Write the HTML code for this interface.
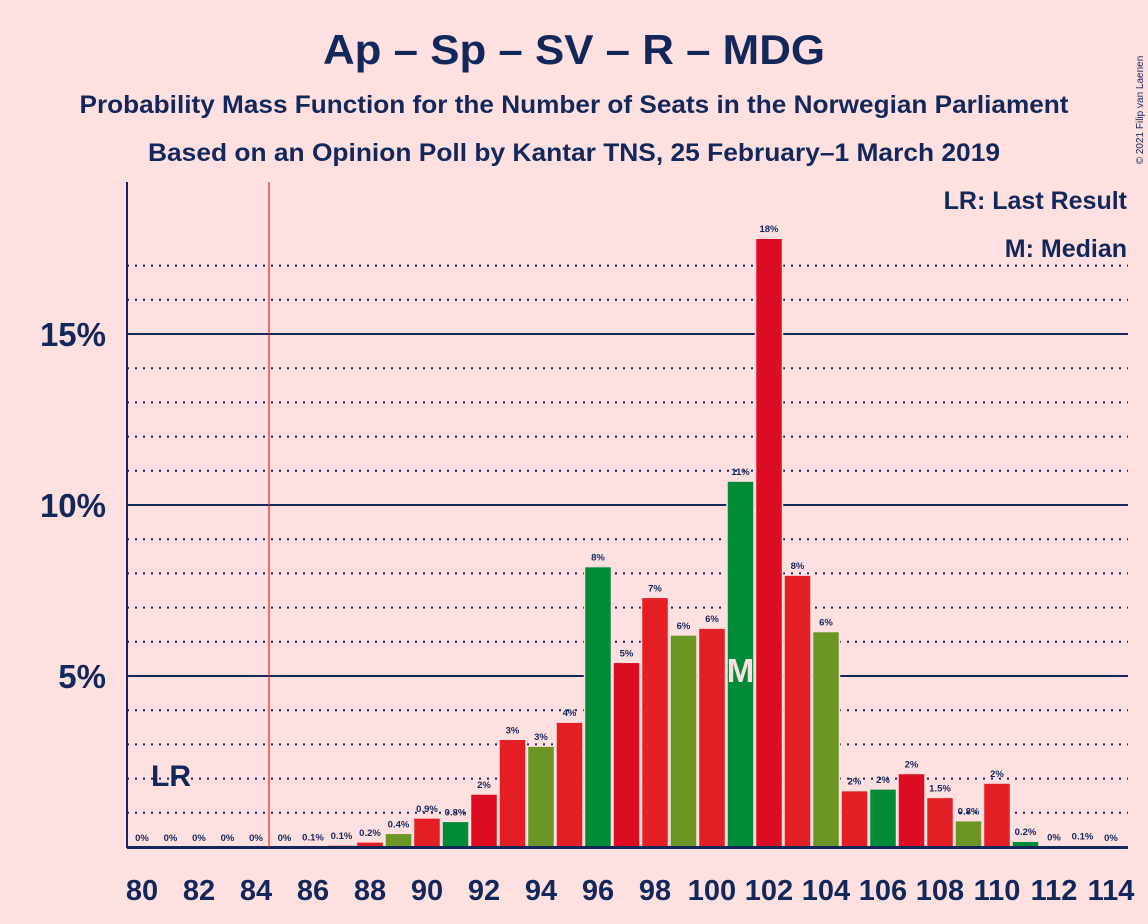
<!DOCTYPE html>
<html><head><meta charset="utf-8"><style>
html,body{margin:0;padding:0;background:#ffe0e0;}
svg{display:block;font-family:"Liberation Sans",sans-serif;}
</style></head><body>
<svg id="chart" width="1148" height="924" viewBox="0 0 1148 924" xmlns="http://www.w3.org/2000/svg">
<rect width="1148" height="924" fill="#ffe0e0"/>
<text x="574" y="64" text-anchor="middle" font-size="42" font-weight="bold" fill="#12275a" textLength="502" lengthAdjust="spacingAndGlyphs">Ap – Sp – SV – R – MDG</text>
<text x="574" y="113" text-anchor="middle" font-size="25" font-weight="bold" fill="#12275a" textLength="989" lengthAdjust="spacingAndGlyphs">Probability Mass Function for the Number of Seats in the Norwegian Parliament</text>
<text x="574" y="161" text-anchor="middle" font-size="25" font-weight="bold" fill="#12275a" textLength="852" lengthAdjust="spacingAndGlyphs">Based on an Opinion Poll by Kantar TNS, 25 February–1 March 2019</text>
<text x="1143" y="110" text-anchor="middle" font-size="10" fill="#12275a" transform="rotate(-90 1143 110)">© 2021 Filip van Laenen</text>
<g id="grid"></g>
<g id="bars"></g>
<g id="labels"></g>
<line x1="127" y1="182" x2="127" y2="848" stroke="#12275a" stroke-width="2"/>
<line x1="127" y1="847.5" x2="1128" y2="847.5" stroke="#12275a" stroke-width="3"/>
<line x1="269" y1="182" x2="269" y2="847" stroke="#ff2020" stroke-width="1.2"/>
<text x="171" y="786" text-anchor="middle" font-size="30" font-weight="bold" fill="#12275a">LR</text>
<text x="1127" y="209" text-anchor="end" font-size="25" font-weight="bold" fill="#12275a">LR: Last Result</text>
<text x="1127" y="257" text-anchor="end" font-size="25" font-weight="bold" fill="#12275a">M: Median</text>
</svg>
<script>
const seats = [80,81,82,83,84,85,86,87,88,89,90,91,92,93,94,95,96,97,98,99,100,101,102,103,104,105,106,107,108,109,110,111,112,113,114];
const probs = [0,0,0,0,0,0,0.02,0.06,0.15,0.4,0.85,0.75,1.55,3.15,2.95,3.65,8.2,5.4,7.3,6.2,6.4,10.7,17.8,7.95,6.3,1.65,1.7,2.15,1.45,0.77,1.87,0.17,0.02,0.04,0];
const valueLabels = ["0%","0%","0%","0%","0%","0%","0.1%","0.1%","0.2%","0.4%","0.9%","0.8%","2%","3%","3%","4%","8%","5%","7%","6%","6%","11%","18%","8%","6%","2%","2%","2%","1.5%","0.8%","2%","0.2%","0%","0.1%","0%"];
const xTicks = [80,82,84,86,88,90,92,94,96,98,100,102,104,106,108,110,112,114];
const yTicks = [5,10,15];
const yTickLabels = ["5%","10%","15%"];
const medianSeat = 101;
const lastResultSeat = 81;
const colors = ["#e31e24","#008c37","#6b9525","#dc0d22"];
const colorIdx = [0,0,0,0,0,0,0,0,0,2,0,1,3,0,2,0,1,3,0,2,0,1,3,0,2,0,1,3,0,2,0,1,0,0,0];
const NS="http://www.w3.org/2000/svg";
function xs(s){return 142+(s-80)*28.5;}
function ys(p){return 847-p*34.2;}
function mk(tag,attrs,parent){const e=document.createElementNS(NS,tag);for(const k in attrs)e.setAttribute(k,attrs[k]);parent.appendChild(e);return e;}
const grid=document.getElementById('grid'),bars=document.getElementById('bars'),labels=document.getElementById('labels'),svg=document.getElementById('chart');
for(let v=1;v<=17;v++){
  const solid=yTicks.includes(v);
  const l=mk('line',{x1:127,x2:1128,y1:ys(v),y2:ys(v),stroke:'#12275a','stroke-width':2,'stroke-dasharray':solid?'none':'2,6'},grid);
  
  
}
yTicks.forEach((v,i)=>{
  const t=mk('text',{x:106,y:ys(v)+12,'text-anchor':'end','font-size':33,'font-weight':'bold',fill:'#12275a'},svg);
  t.textContent=yTickLabels[i];
  
  
});
xTicks.forEach(s=>{
  const t=mk('text',{x:xs(s),y:900,'text-anchor':'middle','font-size':29,'font-weight':'bold',fill:'#12275a'},svg);
  t.textContent=s;
  
  
});
seats.forEach((s,i)=>{
  const p=probs[i];
  if(p>0){
    const r=mk('rect',{x:xs(s)-13.5,y:ys(p),width:27,height:847-ys(p),fill:colors[colorIdx[i]],stroke:'#ffe0e0','stroke-width':1.5},bars);
    
    
  }
  const t=mk('text',{x:xs(s),y:ys(p)-6,'text-anchor':'middle','font-size':9.5,'font-weight':'bold',fill:'#12275a'},labels);
  t.textContent=valueLabels[i];
  
  
  if(s===medianSeat){
    const m=mk('text',{x:xs(s),y:682,'text-anchor':'middle','font-size':33,'font-weight':'bold',fill:'#ffe0e0'},labels);
    m.textContent='M';
    
    
  }
});
</script>
</body></html>
